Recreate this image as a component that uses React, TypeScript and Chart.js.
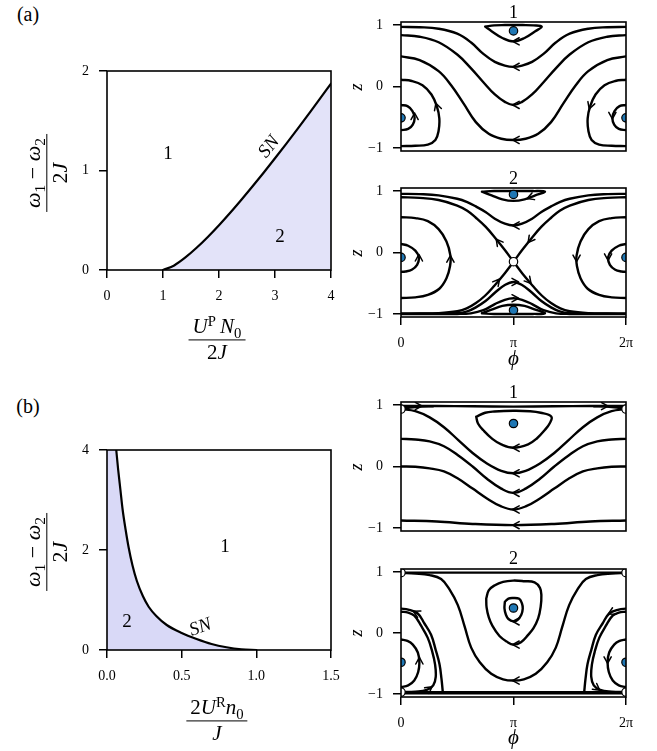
import React, { useEffect, useRef } from "react";
import { Chart, registerables } from "chart.js";

Chart.register(...registerables);

const SERIF = "'Liberation Serif', 'DejaVu Serif', 'Times New Roman', serif";
Chart.defaults.font.family = SERIF;
Chart.defaults.color = "#000";

type Pt = [number, number];
type Arrow = [number, number, number, number];

const TWO_PI = 6.283185;

// ---------- phase diagrams ----------
const A_X_TICKS = [0, 1, 2, 3, 4];
const A_X_LABELS = ["0", "1", "2", "3", "4"];
const A_Y_TICKS = [0, 1, 2];
const A_Y_LABELS = ["0", "1", "2"];
const B_X_TICKS = [0, 0.5, 1.0, 1.5];
const B_X_LABELS = ["0.0", "0.5", "1.0", "1.5"];
const B_Y_TICKS = [0, 2, 4];
const B_Y_LABELS = ["0", "2", "4"];

const SN_A: Pt[] = [
  [1, 0], [1.2, 0.046], [1.4, 0.126], [1.6, 0.223], [1.8, 0.332], [2.0, 0.45],
  [2.2, 0.575], [2.4, 0.706], [2.6, 0.841], [2.8, 0.98], [3.0, 1.123], [3.2, 1.268],
  [3.4, 1.416], [3.6, 1.567], [3.8, 1.719], [4.0, 1.874],
];
const SN_B: Pt[] = [
  [0.062, 4.0], [0.075, 3.6], [0.09, 3.2], [0.105, 2.8], [0.125, 2.4], [0.145, 2.05],
  [0.17, 1.7], [0.2, 1.38], [0.24, 1.08], [0.28, 0.86], [0.33, 0.68], [0.4, 0.5],
  [0.5, 0.34], [0.6, 0.22], [0.7, 0.12], [0.8, 0.055], [0.9, 0.015], [1.0, 0.0],
];
const FILL_B_CORNER: Pt[] = [[0, 4.0]];

// ---------- portrait ticks ----------
const PHI_TICKS = [0, Math.PI, TWO_PI];
const PHI_LABELS = ["0", "π", "2π"];
const Z_TICKS = [-1, 0, 1];
const Z_LABELS = ["−1", "0", "1"];

// ---------- panel (a) state 1 ----------
const A1_LOOP_TOP: Pt[] = [[2.35,0.975],[2.6,0.995],[2.9,1.0],[3.14,1.0],[3.4,1.0],[3.7,0.995],[3.93,0.975],[3.75,0.9],[3.45,0.79],[3.14,0.735],[2.83,0.79],[2.53,0.9],[2.35,0.975]];
const A1_RUN_1: Pt[] = [[0,0.97],[0.52,0.965],[1.05,0.94],[1.57,0.86],[1.95,0.72],[2.3,0.53],[2.62,0.40],[2.9,0.34],[3.14,0.32],[3.38,0.34],[3.66,0.40],[3.98,0.53],[4.33,0.72],[4.71,0.86],[5.23,0.94],[5.76,0.965],[6.283,0.97]];
const A1_RUN_2: Pt[] = [[0,0.836],[0.52,0.81],[1.05,0.72],[1.57,0.52],[1.95,0.30],[2.3,0.07],[2.62,-0.13],[2.9,-0.25],[3.14,-0.30],[3.38,-0.25],[3.66,-0.13],[3.98,0.07],[4.33,0.30],[4.71,0.52],[5.23,0.72],[5.76,0.81],[6.283,0.836]];
const A1_RUN_3: Pt[] = [[0,0.49],[0.52,0.43],[1.05,0.25],[1.4,0.02],[1.75,-0.28],[2.09,-0.58],[2.45,-0.77],[2.8,-0.85],[3.14,-0.87],[3.48,-0.85],[3.83,-0.77],[4.19,-0.58],[4.53,-0.28],[4.88,0.02],[5.23,0.25],[5.76,0.43],[6.283,0.49]];
const A1_LEFT_OUT: Pt[] = [[0,0.11],[0.3,0.09],[0.6,0.02],[0.85,-0.13],[1.0,-0.32],[1.07,-0.52],[1.05,-0.72],[0.96,-0.87],[0.75,-0.945],[0.4,-0.965],[0,-0.97]];
const A1_RIGHT_OUT: Pt[] = [[6.283,0.11],[5.983,0.09],[5.683,0.02],[5.433,-0.13],[5.283,-0.32],[5.213,-0.52],[5.233,-0.72],[5.323,-0.87],[5.533,-0.945],[5.883,-0.965],[6.283,-0.97]];
const A1_LEFT_IN: Pt[] = [[0,-0.30],[0.18,-0.32],[0.32,-0.40],[0.38,-0.51],[0.33,-0.62],[0.2,-0.69],[0,-0.71]];
const A1_RIGHT_IN: Pt[] = [[6.283,-0.30],[6.103,-0.32],[5.963,-0.40],[5.903,-0.51],[5.953,-0.62],[6.083,-0.69],[6.283,-0.71]];
const A1_STABLE: Pt[] = [[0,-0.51],[6.283,-0.51],[3.1416,0.905]];
const A1_ARROWS: Arrow[] = [[3.2,0.735,-1,0],[3.2,0.32,-1,0],[3.2,-0.30,-1,0],[3.2,-0.87,-1,0],[1.0,-0.32,-0.22,0.39],[5.283,-0.32,-0.22,-0.39],[0.38,-0.48,0,1],[5.903,-0.48,0,-1]];

// ---------- panel (a) state 2 ----------
const A2_LOOP_TOP: Pt[] = [[2.26,0.99],[2.6,1.0],[3.14,1.0],[3.68,1.0],[4.02,0.99],[3.75,0.93],[3.45,0.865],[3.14,0.84],[2.83,0.865],[2.53,0.93],[2.26,0.99]];
const A2_LOOP_BOT: Pt[] = [[2.26,-0.99],[2.6,-1.0],[3.14,-1.0],[3.68,-1.0],[4.02,-0.99],[3.75,-0.93],[3.45,-0.87],[3.14,-0.85],[2.83,-0.87],[2.53,-0.93],[2.26,-0.99]];
const A2_RUN_TOP: Pt[] = [[0,0.955],[0.52,0.95],[1.05,0.93],[1.57,0.875],[1.85,0.82],[2.09,0.75],[2.36,0.66],[2.62,0.55],[2.9,0.47],[3.14,0.44],[3.38,0.47],[3.66,0.55],[3.92,0.66],[4.19,0.75],[4.43,0.82],[4.71,0.875],[5.23,0.93],[5.76,0.95],[6.283,0.955]];
const A2_SEP_1: Pt[] = [[0,0.90],[0.52,0.89],[1.05,0.855],[1.57,0.765],[1.85,0.68],[2.09,0.566],[2.36,0.42],[2.62,0.245],[2.9,0.04],[3.1416,-0.15],[3.4,-0.35],[3.67,-0.536],[3.93,-0.70],[4.19,-0.823],[4.45,-0.91],[4.71,-0.956],[5.24,-0.988],[5.76,-0.994],[6.283,-0.995]];
const A2_SEP_2: Pt[] = [[6.283,0.90],[5.763,0.89],[5.233,0.855],[4.713,0.765],[4.433,0.68],[4.193,0.566],[3.923,0.42],[3.663,0.245],[3.383,0.04],[3.1416,-0.15],[2.883,-0.35],[2.613,-0.536],[2.353,-0.70],[2.093,-0.823],[1.833,-0.91],[1.573,-0.956],[1.043,-0.988],[0.523,-0.994],[0,-0.995]];
const A2_RUN_MID: Pt[] = [[0,-0.995],[1.05,-0.995],[1.57,-0.99],[1.85,-0.96],[2.09,-0.893],[2.36,-0.79],[2.62,-0.655],[2.9,-0.53],[3.14,-0.48],[3.38,-0.53],[3.66,-0.655],[3.92,-0.79],[4.19,-0.893],[4.43,-0.96],[4.71,-0.99],[5.23,-0.995],[6.283,-0.995]];
const A2_RUN_LOW: Pt[] = [[0,-1.0],[1.57,-1.0],[1.95,-0.99],[2.3,-0.94],[2.62,-0.84],[2.9,-0.77],[3.14,-0.745],[3.38,-0.77],[3.66,-0.84],[3.98,-0.94],[4.33,-0.99],[4.71,-1.0],[6.283,-1.0]];
const A2_LEFT_IN: Pt[] = [[0,0.14],[0.2,0.11],[0.4,0.03],[0.5,-0.08],[0.45,-0.2],[0.3,-0.28],[0.12,-0.31],[0,-0.315]];
const A2_RIGHT_IN: Pt[] = [[6.283,0.14],[6.083,0.11],[5.883,0.03],[5.783,-0.08],[5.833,-0.2],[5.983,-0.28],[6.163,-0.31],[6.283,-0.315]];
const A2_LEFT_OUT: Pt[] = [[0,0.575],[0.4,0.56],[0.75,0.51],[1.05,0.38],[1.27,0.18],[1.38,-0.05],[1.37,-0.22],[1.27,-0.42],[1.07,-0.59],[0.75,-0.69],[0.4,-0.73],[0,-0.74]];
const A2_RIGHT_OUT: Pt[] = [[6.283,0.575],[5.883,0.56],[5.533,0.51],[5.233,0.38],[5.013,0.18],[4.903,-0.05],[4.913,-0.22],[5.013,-0.42],[5.213,-0.59],[5.533,-0.69],[5.883,-0.73],[6.283,-0.74]];
const A2_STABLE: Pt[] = [[0,-0.08],[6.283,-0.08],[3.1416,0.945],[3.1416,-0.94]];
const A2_SADDLE: Pt[] = [[3.1416,-0.15]];
const A2_ARROWS: Arrow[] = [[3.6,0.895,-1,-0.22],[3.2,0.44,-1,0],[2.71,0.18,-1,0.76],[3.6,0.2,-1,-0.76],[2.7,-0.47,1,0.7],[3.58,-0.47,1,-0.7],[3.2,-0.48,1,0],[3.2,-0.745,1,0],[0.5,-0.08,0,1],[5.783,-0.08,0,-1],[1.38,-0.1,0,1],[4.903,-0.1,0,-1]];

// ---------- panel (b) state 1 ----------
const B1_TOP: Pt[] = [[0,0.985],[1.0,0.985],[2.0,0.98],[3.14,0.975],[4.28,0.98],[5.28,0.985],[6.283,0.985]];
const B1_CORNER_L: Pt[] = [[0,0.935],[0.25,0.96],[0.55,0.976],[0.9,0.982]];
const B1_CORNER_R: Pt[] = [[6.283,0.935],[6.033,0.96],[5.733,0.976],[5.383,0.982]];
const B1_SEP: Pt[] = [[0,0.935],[0.4,0.90],[0.8,0.80],[1.2,0.64],[1.6,0.43],[2.0,0.22],[2.4,0.05],[2.8,-0.07],[3.14,-0.11],[3.48,-0.07],[3.88,0.05],[4.28,0.22],[4.68,0.43],[5.08,0.64],[5.48,0.80],[5.88,0.90],[6.283,0.935]];
const B1_RUN_2: Pt[] = [[0,0.45],[0.4,0.44],[0.8,0.41],[1.2,0.33],[1.6,0.18],[2.0,0.0],[2.4,-0.2],[2.8,-0.36],[3.14,-0.43],[3.48,-0.36],[3.88,-0.2],[4.28,0.0],[4.68,0.18],[5.08,0.33],[5.48,0.41],[5.88,0.44],[6.283,0.45]];
const B1_RUN_3: Pt[] = [[0,0.0],[0.4,-0.005],[0.8,-0.03],[1.2,-0.08],[1.6,-0.2],[2.0,-0.36],[2.4,-0.52],[2.8,-0.65],[3.14,-0.70],[3.48,-0.65],[3.88,-0.52],[4.28,-0.36],[4.68,-0.2],[5.08,-0.08],[5.48,-0.03],[5.88,-0.005],[6.283,0.0]];
const B1_RUN_4: Pt[] = [[0,-0.88],[1.0,-0.895],[2.0,-0.935],[3.14,-0.955],[4.28,-0.935],[5.28,-0.895],[6.283,-0.88]];
const B1_LOOP: Pt[] = [[2.1,0.81],[2.35,0.875],[2.61,0.895],[3.14,0.907],[3.6,0.9],[3.9,0.875],[4.2,0.81],[4.15,0.7],[4.01,0.59],[3.8,0.46],[3.55,0.36],[3.14,0.305],[2.8,0.36],[2.55,0.45],[2.3,0.59],[2.15,0.7],[2.1,0.81]];
const B1_SADDLE: Pt[] = [[0,0.935],[6.283,0.935]];
const B1_STABLE: Pt[] = [[3.1416,0.70]];
const B1_ARROWS: Arrow[] = [[3.2,0.305,-1,0],[3.2,-0.11,-1,0],[3.2,-0.43,-1,0],[3.2,-0.70,-1,0],[3.2,-0.955,-1,0],[0.5,0.985,1,0],[5.7,0.983,1,0]];

// ---------- panel (b) state 2 ----------
const B2_TOP: Pt[] = [[0,0.99],[6.283,0.99]];
const B2_BOT_A: Pt[] = [[0,-0.99],[6.283,-0.99]];
const B2_BOT_B: Pt[] = [[0,-0.97],[1.5,-0.972],[4.78,-0.972],[6.283,-0.97]];
const B2_WAVE: Pt[] = [[0,0.985],[0.4,0.975],[0.8,0.95],[1.12,0.885],[1.35,0.72],[1.587,0.457],[1.78,0.1],[1.96,-0.24],[2.2,-0.48],[2.52,-0.67],[2.85,-0.76],[3.14,-0.78],[3.43,-0.76],[3.763,-0.67],[4.083,-0.48],[4.323,-0.24],[4.503,0.1],[4.696,0.457],[4.933,0.72],[5.163,0.885],[5.483,0.95],[5.883,0.975],[6.283,0.985]];
const B2_LOOP_OUT: Pt[] = [[2.38,0.565],[2.45,0.70],[2.61,0.78],[2.85,0.84],[3.13,0.86],[3.45,0.85],[3.73,0.83],[3.88,0.74],[3.92,0.62],[3.9,0.43],[3.83,0.24],[3.7,0.08],[3.55,-0.03],[3.35,-0.15],[3.14,-0.19],[2.95,-0.14],[2.75,-0.05],[2.55,0.12],[2.45,0.26],[2.39,0.42],[2.38,0.565]];
const B2_LOOP_IN: Pt[] = [[2.9,0.51],[3.0,0.565],[3.13,0.575],[3.3,0.56],[3.38,0.48],[3.4,0.4],[3.36,0.3],[3.25,0.21],[3.14,0.19],[3.0,0.23],[2.93,0.3],[2.89,0.4],[2.9,0.51]];
const B2_LEFT_IN: Pt[] = [[0,-0.107],[0.18,-0.13],[0.33,-0.19],[0.47,-0.32],[0.513,-0.48],[0.48,-0.64],[0.37,-0.78],[0.2,-0.86],[0,-0.887]];
const B2_RIGHT_IN: Pt[] = [[6.283,-0.107],[6.103,-0.13],[5.953,-0.19],[5.813,-0.32],[5.77,-0.48],[5.803,-0.64],[5.913,-0.78],[6.083,-0.86],[6.283,-0.887]];
const B2_LEFT_A: Pt[] = [[0,0.40],[0.2,0.385],[0.467,0.32],[0.65,0.16],[0.84,-0.03],[0.97,-0.28],[1.074,-0.51],[1.13,-0.75],[1.167,-0.97]];
const B2_RIGHT_A: Pt[] = [[6.283,0.40],[6.083,0.385],[5.816,0.32],[5.633,0.16],[5.443,-0.03],[5.313,-0.28],[5.209,-0.51],[5.153,-0.75],[5.116,-0.97]];
const B2_LEFT_B: Pt[] = [[0,0.35],[0.2,0.335],[0.373,0.285],[0.56,0.12],[0.747,-0.08],[0.87,-0.3],[0.95,-0.51],[0.97,-0.72],[0.9,-0.86],[0.72,-0.935],[0.4,-0.962],[0,-0.97]];
const B2_RIGHT_B: Pt[] = [[6.283,0.35],[6.083,0.335],[5.91,0.285],[5.723,0.12],[5.536,-0.08],[5.413,-0.3],[5.333,-0.51],[5.313,-0.72],[5.383,-0.86],[5.563,-0.935],[5.883,-0.962],[6.283,-0.97]];
const B2_SADDLE: Pt[] = [[0,0.99],[6.283,0.99],[0,-0.97],[6.283,-0.97]];
const B2_STABLE: Pt[] = [[3.1416,0.41],[0,-0.48],[6.283,-0.48]];
const B2_ARROWS: Arrow[] = [[3.2,-0.78,-1,0],[3.2,-0.19,-1,0],[3.2,0.19,-1,0],[0.513,-0.45,0,1],[5.77,-0.45,0,-1],[0.42,0.335,-1,0.3],[5.863,0.335,-1,-0.3],[0.8,-0.91,1,0.45],[5.483,-0.91,1,-0.45]];

const FILL_A = "#e3e3f9";
const FILL_B = "#d9d9f7";

interface Curve { pts: Pt[]; width?: number; fill?: string; mode?: "spline" | "monotone" }
interface Panel {
  box: [number, number, number, number];
  pad: [number, number, number, number];
  yW: number; xH: number; showX: boolean;
  xr: [number, number]; yr: [number, number];
  xt: number[]; xl: string[]; yt: number[]; yl: string[];
  curves: Curve[]; stable?: Pt[]; saddle?: Pt[]; arrows?: Arrow[];
}

const PORTRAIT_BASE = {
  xr: [0, TWO_PI] as [number, number], yr: [-1.05, 1.05] as [number, number],
  xt: PHI_TICKS, xl: PHI_LABELS, yt: Z_TICKS, yl: Z_LABELS, yW: 50,
};

const STREAM_W = 2.4;

const PANELS: Panel[] = [
  {
    box: [50, 40, 310, 280], pad: [0, 31, 29, 0], yW: 57, xH: 50, showX: true,
    xr: [0, 4], yr: [0, 2], xt: A_X_TICKS, xl: A_X_LABELS, yt: A_Y_TICKS, yl: A_Y_LABELS,
    curves: [{ pts: SN_A, fill: FILL_A, mode: "monotone", width: 2.2 }],
  },
  {
    box: [50, 419, 310, 281], pad: [0, 31, 29, 0], yW: 57, xH: 50, showX: true,
    xr: [0, 1.5], yr: [0, 4], xt: B_X_TICKS, xl: B_X_LABELS, yt: B_Y_TICKS, yl: B_Y_LABELS,
    curves: [
      { pts: SN_B, mode: "monotone", width: 2.2 },
      { pts: [...FILL_B_CORNER, ...SN_B], fill: FILL_B, width: 0, mode: "monotone" },
    ],
  },
  {
    ...PORTRAIT_BASE, box: [351, 0, 305, 176], pad: [0, 22, 30, 25], xH: 0, showX: false,
    curves: [A1_LOOP_TOP, A1_RUN_1, A1_RUN_2, A1_RUN_3, A1_LEFT_OUT, A1_RIGHT_OUT, A1_LEFT_IN, A1_RIGHT_IN].map((pts) => ({ pts, width: STREAM_W })),
    stable: A1_STABLE, arrows: A1_ARROWS,
  },
  {
    ...PORTRAIT_BASE, box: [351, 163, 305, 204], pad: [0, 25, 30, 0], xH: 50, showX: true,
    curves: [A2_LOOP_TOP, A2_LOOP_BOT, A2_RUN_TOP, A2_SEP_1, A2_SEP_2, A2_RUN_MID, A2_RUN_LOW, A2_LEFT_IN, A2_RIGHT_IN, A2_LEFT_OUT, A2_RIGHT_OUT].map((pts) => ({ pts, width: STREAM_W })),
    stable: A2_STABLE, saddle: A2_SADDLE, arrows: A2_ARROWS,
  },
  {
    ...PORTRAIT_BASE, box: [351, 377, 305, 179], pad: [0, 25, 30, 25], xH: 0, showX: false,
    curves: [B1_TOP, B1_CORNER_L, B1_CORNER_R, B1_SEP, B1_RUN_2, B1_RUN_3, B1_RUN_4, B1_LOOP].map((pts) => ({ pts, width: STREAM_W })),
    stable: B1_STABLE, saddle: B1_SADDLE, arrows: B1_ARROWS,
  },
  {
    ...PORTRAIT_BASE, box: [351, 544, 305, 203], pad: [0, 25, 30, 0], xH: 50, showX: true,
    curves: [B2_TOP, B2_BOT_A, B2_BOT_B, B2_WAVE, B2_LOOP_OUT, B2_LOOP_IN, B2_LEFT_IN, B2_RIGHT_IN, B2_LEFT_A, B2_RIGHT_A, B2_LEFT_B, B2_RIGHT_B].map((pts) => ({ pts, width: STREAM_W })),
    stable: B2_STABLE, saddle: B2_SADDLE, arrows: B2_ARROWS,
  },
];

function buildChart(canvas: HTMLCanvasElement, p: Panel) {
  const toXY = (pts: Pt[]) => pts.map(([x, y]) => ({ x, y }));
  const datasets: any[] = [];
  const marker = (pts: Pt[], color: string) => ({
    data: toXY(pts), showLine: false, pointRadius: 4.2, pointBackgroundColor: color,
    pointBorderColor: "#000", pointBorderWidth: 1.2, clip: 0,
  });
  if (p.saddle) datasets.push(marker(p.saddle, "#ffffff"));
  if (p.stable) datasets.push(marker(p.stable, "#1f77b4"));
  for (const c of p.curves) {
    datasets.push({
      data: toXY(c.pts),
      borderColor: c.width === 0 ? "rgba(0,0,0,0)" : "#000",
      borderWidth: c.width ?? 2,
      pointRadius: 0,
      fill: c.fill ? "origin" : false,
      backgroundColor: c.fill ?? "rgba(0,0,0,0)",
      tension: 0.4,
      cubicInterpolationMode: c.mode === "monotone" ? "monotone" : "default",
      borderCapStyle: "round",
      borderJoinStyle: "round",
      clip: 0,
    });
  }
  const tickFont = { family: SERIF, size: 14 };
  const arrowPlugin = {
    id: "arrows",
    afterDatasetsDraw(chart: any) {
      if (!p.arrows) return;
      const { ctx, chartArea: a } = chart;
      const xs = chart.scales.x, ys = chart.scales.y;
      ctx.save();
      ctx.beginPath();
      ctx.rect(a.left, a.top, a.right - a.left, a.bottom - a.top);
      ctx.clip();
      ctx.strokeStyle = "#000";
      ctx.lineWidth = 1.5;
      ctx.lineCap = "round";
      for (const [ph, z, dp, dz] of p.arrows) {
        const px = xs.getPixelForValue(ph), py = ys.getPixelForValue(z);
        const qx = xs.getPixelForValue(ph + dp * 0.01), qy = ys.getPixelForValue(z + dz * 0.01);
        let ux = qx - px, uy = qy - py;
        const n = Math.hypot(ux, uy) || 1;
        ux /= n; uy /= n;
        const tx = px + ux * 3, ty = py + uy * 3;
        const L = 7.5, th = 0.5;
        ctx.beginPath();
        for (const s of [1, -1]) {
          const c = Math.cos(s * th), sn = Math.sin(s * th);
          const vx = -ux, vy = -uy;
          const wx = vx * c - vy * sn, wy = vx * sn + vy * c;
          ctx.moveTo(tx, ty);
          ctx.lineTo(tx + wx * L, ty + wy * L);
        }
        ctx.stroke();
      }
      ctx.restore();
    },
  };
  const framePlugin = {
    id: "frame",
    afterDatasetsDraw(chart: any) {
      const { ctx, chartArea: a } = chart;
      ctx.save();
      ctx.strokeStyle = "#000";
      ctx.lineWidth = 1.6;
      ctx.strokeRect(a.left, a.top, a.right - a.left, a.bottom - a.top);
      ctx.restore();
    },
  };
  return new Chart(canvas, {
    type: "line",
    data: { datasets },
    options: {
      responsive: false,
      animation: false,
      events: [],
      layout: { padding: { left: p.pad[0], top: p.pad[1], right: p.pad[2], bottom: p.pad[3] }, autoPadding: false } as any,
      plugins: { legend: { display: false }, tooltip: { enabled: false }, title: { display: false } },
      scales: {
        x: {
          type: "linear", min: p.xr[0], max: p.xr[1], display: p.showX, position: "bottom",
          afterBuildTicks: (s: any) => { s.ticks = p.xt.map((v) => ({ value: v })); },
          afterFit: (s: any) => { s.height = p.xH; },
          ticks: { callback: (_v: any, i: number) => p.xl[i], font: tickFont, color: "#000", padding: 10, maxRotation: 0, autoSkip: false },
          grid: { drawOnChartArea: false, drawTicks: true, tickLength: 8, color: "#000", lineWidth: 1.5 },
          border: { display: false },
        },
        y: {
          type: "linear", min: p.yr[0], max: p.yr[1], position: "left",
          afterBuildTicks: (s: any) => { s.ticks = p.yt.map((v) => ({ value: v })); },
          afterFit: (s: any) => { s.width = p.yW; },
          ticks: { callback: (_v: any, i: number) => p.yl[i], font: tickFont, color: "#000", padding: 10, autoSkip: false },
          grid: { drawOnChartArea: false, drawTicks: true, tickLength: 8, color: "#000", lineWidth: 1.5 },
          border: { display: false },
        },
      },
    } as any,
    plugins: [arrowPlugin, framePlugin],
  });
}

const Txt: React.FC<{ x: number; y: number; size: number; rot?: number; italic?: boolean; children: React.ReactNode }> = ({ x, y, size, rot = 0, italic, children }) => (
  <div style={{
    position: "absolute", left: x, top: y, transform: `translate(-50%,-50%) rotate(${rot}deg)`,
    fontFamily: SERIF, fontSize: size, lineHeight: 1, whiteSpace: "nowrap", color: "#000",
    fontStyle: italic ? "italic" : "normal",
  }}>{children}</div>
);

const subStyle: React.CSSProperties = { fontSize: "0.7em", verticalAlign: "-0.28em", lineHeight: 0, fontStyle: "normal" };
const supStyle: React.CSSProperties = { fontSize: "0.7em", verticalAlign: "0.5em", lineHeight: 0, fontStyle: "normal" };

const Frac: React.FC<{ x: number; y: number; rot?: number; size: number; num: React.ReactNode; den: React.ReactNode }> = ({ x, y, rot = 0, size, num, den }) => (
  <div style={{
    position: "absolute", left: x, top: y, transform: `translate(-50%,-50%) rotate(${rot}deg)`,
    display: "flex", flexDirection: "column", alignItems: "center", fontFamily: SERIF,
    fontSize: size, lineHeight: 1.1, whiteSpace: "nowrap", color: "#000",
  }}>
    <div style={{ padding: "0 4px" }}>{num}</div>
    <div style={{ alignSelf: "stretch", borderTop: "1.8px solid #000", margin: "1px 0" }} />
    <div>{den}</div>
  </div>
);

export default function App() {
  const refs = [useRef<HTMLCanvasElement>(null), useRef<HTMLCanvasElement>(null), useRef<HTMLCanvasElement>(null),
    useRef<HTMLCanvasElement>(null), useRef<HTMLCanvasElement>(null), useRef<HTMLCanvasElement>(null)];
  useEffect(() => {
    const charts = PANELS.map((p, i) => buildChart(refs[i].current as HTMLCanvasElement, p));
    return () => charts.forEach((c) => c.destroy());
  }, []);

  const omega = (k: string) => (<><i>ω</i><span style={subStyle}>{k}</span></>);
  const yTitle = (<>{omega("1")} − {omega("2")}</>);
  const twoJ = (<>2<i>J</i></>);

  return (
    <div style={{ position: "absolute", left: 0, top: 0, width: 657, height: 751, background: "#fff", overflow: "hidden" }}>
      {PANELS.map((p, i) => (
        <canvas key={i} ref={refs[i]} width={p.box[2]} height={p.box[3]}
          style={{ position: "absolute", left: p.box[0], top: p.box[1], width: p.box[2], height: p.box[3] }} />
      ))}

      <Txt x={28} y={14} size={20}>(a)</Txt>
      <Txt x={28} y={406} size={20}>(b)</Txt>

      <Frac x={47} y={173} rot={-90} size={22} num={yTitle} den={twoJ} />
      <Frac x={217} y={340} size={21} num={<><i>U</i><span style={supStyle}>P</span>&#8201;<i>N</i><span style={subStyle}>0</span></>} den={twoJ} />
      <Frac x={47} y={552} rot={-90} size={22} num={yTitle} den={twoJ} />
      <Frac x={217} y={721} size={21} num={<>2<i>U</i><span style={supStyle}>R</span><i>n</i><span style={subStyle}>0</span></>} den={<i>J</i>} />

      <Txt x={168} y={152} size={19}>1</Txt>
      <Txt x={280} y={235} size={19}>2</Txt>
      <Txt x={268} y={146} size={19} rot={-52} italic>SN</Txt>
      <Txt x={225} y={545} size={19}>1</Txt>
      <Txt x={127} y={620} size={19}>2</Txt>
      <Txt x={200} y={626} size={19} rot={-20} italic>SN</Txt>

      <Txt x={513.5} y={12} size={18}>1</Txt>
      <Txt x={513.5} y={178} size={18}>2</Txt>
      <Txt x={513.5} y={392} size={18}>1</Txt>
      <Txt x={513.5} y={558} size={18}>2</Txt>

      <Txt x={356} y={86.5} size={18} rot={-90} italic>z</Txt>
      <Txt x={356} y={252.5} size={18} rot={-90} italic>z</Txt>
      <Txt x={356} y={467} size={18} rot={-90} italic>z</Txt>
      <Txt x={356} y={633} size={18} rot={-90} italic>z</Txt>

      <Txt x={513.5} y={358} size={21} italic>ϕ</Txt>
      <Txt x={513.5} y={737} size={21} italic>ϕ</Txt>
    </div>
  );
}
